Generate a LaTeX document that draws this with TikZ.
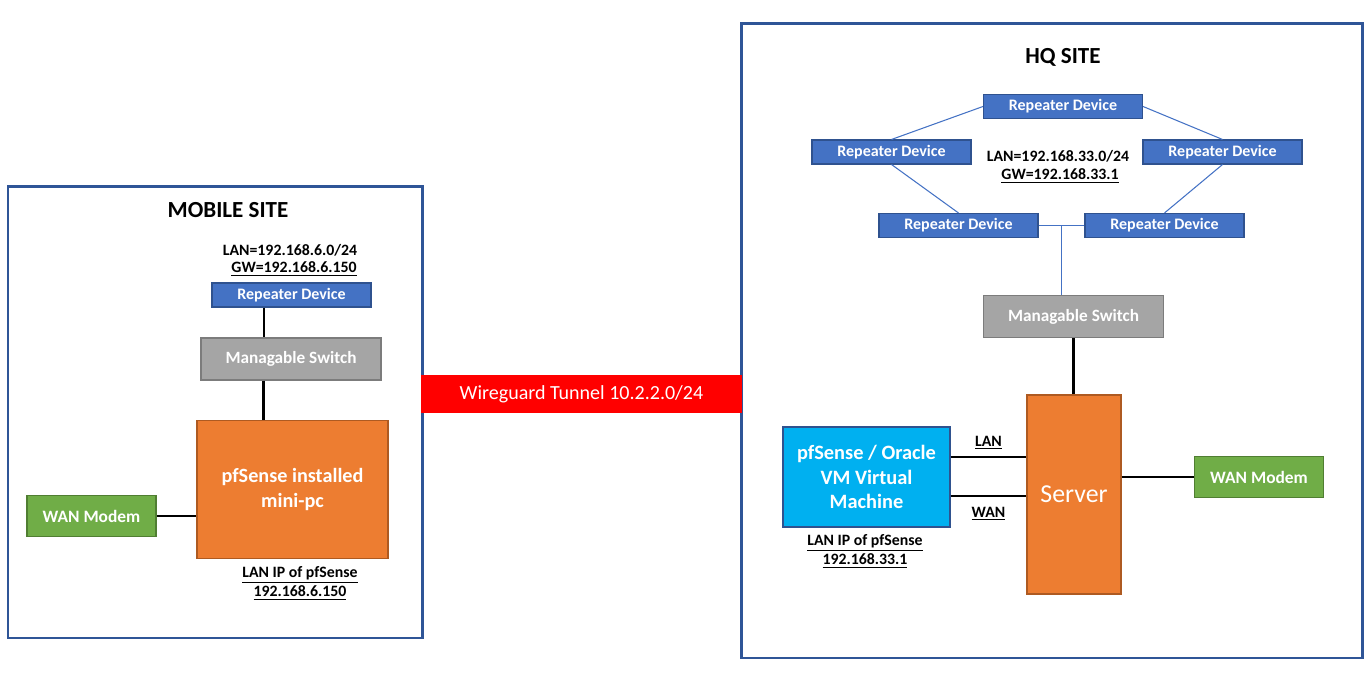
\documentclass[tikz,border=0pt]{standalone}
\usepackage{fontspec}
\setmainfont{Carlito}
\usetikzlibrary{positioning, calc}

\definecolor{siteblue}{RGB}{47,85,151}
\definecolor{repblue}{RGB}{68,114,196}
\definecolor{repedge}{RGB}{47,82,143}
\definecolor{swgray}{RGB}{165,165,165}
\definecolor{swedge}{RGB}{124,124,124}
\definecolor{pforange}{RGB}{237,125,49}
\definecolor{pfedge}{RGB}{174,90,33}
\definecolor{modemgreen}{RGB}{112,173,71}
\definecolor{modemedge}{RGB}{80,126,50}
\definecolor{vmcyan}{RGB}{0,176,240}
\definecolor{tunnelred}{RGB}{255,0,0}

\begin{document}
\begin{tikzpicture}[
    site/.style={draw=siteblue, line width=1.7pt, inner sep=0pt},
    title/.style={font=\bfseries\fontsize{13.1}{15}\selectfont},
    note/.style={font=\bfseries\fontsize{9}{11}\selectfont, align=center},
    dev/.style={draw, line width=0.6pt, inner sep=0pt, text=white, align=center,
        font=\bfseries\fontsize{10.5}{12.5}\selectfont},
    repeater/.style={dev, fill=repblue, draw=repedge, minimum width=3.18cm,
        minimum height=0.48cm, font=\bfseries\fontsize{9.1}{11}\selectfont},
    switch/.style={dev, fill=swgray, draw=swedge, minimum width=3.6cm,
        minimum height=0.84cm, font=\bfseries\fontsize{9.8}{11.5}\selectfont},
    router/.style={dev, fill=pforange, draw=pfedge},
    modem/.style={dev, fill=modemgreen, draw=modemedge, minimum width=2.58cm,
        minimum height=0.82cm, font=\bfseries\fontsize{9.9}{12}\selectfont},
    wire/.style={line width=1.7pt},
    mesh/.style={repblue, line width=0.6pt}
]
\useasboundingbox (0,0) rectangle (27.4,13.86);

% Site frames
\node[site, minimum width=8.28cm, minimum height=9.02cm] (mobile) at (4.30, 5.61) {};
\node[site, minimum width=12.42cm, minimum height=12.68cm] (hq) at (21.03, 7.04) {};

% Tunnel between the sites
\node[fill=tunnelred, text=white, minimum width=6.42cm, minimum height=0.76cm,
    inner sep=0pt, font=\fontsize{11.4}{13.5}\selectfont] (tunnel) at (11.63, 5.98)
    {Wireguard Tunnel 10.2.2.0/24};

% Mobile site
\node[title] (mtitle) at (4.56, 9.66) {MOBILE SITE};
\node[note] (mlan) at (5.80, 8.86) {LAN=192.168.6.0/24};
\node[note] (mgw) at (5.88, 8.48) {\underline{GW=192.168.6.150}};
\node[repeater] (rep) at (5.83, 7.96) {Repeater Device};
\node[switch] (msw) at (5.82, 6.68) {Managable Switch};
\node[router, minimum width=3.82cm, minimum height=2.76cm,
    font=\bfseries\fontsize{11.5}{14}\selectfont] (mpf) at (5.85, 4.07)
    {pfSense installed\\mini-pc};
\node[modem] (mmodem) at (1.83, 3.54) {WAN Modem};
\node[note] (mip) at (6.00, 2.19) {\underline{LAN IP of pfSense}\\\underline{192.168.6.150}};

\draw[wire] ([xshift=-0.55cm]rep.south) -- ([xshift=-0.55cm]rep.south |- msw.north);
\draw[wire] ([xshift=-0.55cm]msw.south) -- ([xshift=-0.55cm]msw.south |- mpf.north);
\draw[wire] (mmodem.east) -- (mmodem.east -| mpf.west);

% HQ site
\node[title] (htitle) at (21.26, 12.72) {HQ SITE};
\node[repeater] (rtop) at (21.26, 11.73) {Repeater Device};
\node[repeater] (rml) at (17.83, 10.82) {Repeater Device};
\node[repeater] (rmr) at (24.45, 10.82) {Repeater Device};
\node[repeater] (rbl) at (19.17, 9.35) {Repeater Device};
\node[repeater] (rbr) at (23.29, 9.35) {Repeater Device};
\node[note] (hlan) at (21.16, 10.74) {LAN=192.168.33.0/24};
\node[note] (hgw) at (21.20, 10.34) {\underline{GW=192.168.33.1}};
\node[switch] (hsw) at (21.47, 7.53) {Managable Switch};
\node[router, minimum width=1.88cm, minimum height=3.98cm,
    font=\fontsize{14.7}{17}\selectfont] (srv) at (21.48, 3.97) {Server};
\node[dev, fill=vmcyan, draw=repedge, minimum width=3.34cm, minimum height=2.0cm,
    font=\bfseries\fontsize{11.6}{14}\selectfont] (vm) at (17.33, 4.32)
    {pfSense / Oracle\\VM Virtual\\Machine};
\node[modem] (hmodem) at (25.18, 4.32) {WAN Modem};
\node[note] (hip) at (17.30, 2.83) {\underline{LAN IP of pfSense}\\\underline{192.168.33.1}};

% Repeater ring
\draw[mesh] (rtop.west) -- (rml.north);
\draw[mesh] (rtop.east) -- (rmr.north);
\draw[mesh] (rml.south) -- (rbl.north);
\draw[mesh] (rmr.south) -- (rbr.north);
\draw[mesh] (rbl.east) -- coordinate (hub) (rbr.west);
\draw[mesh] (hub) -- (hub |- hsw.north);

\draw[wire] (hsw.south) -- (hsw.south |- srv.north);
\draw[wire] ([yshift=0.40cm]vm.east) -- node[note, above] {\underline{LAN}}
    ([yshift=0.40cm]vm.east -| srv.west);
\draw[wire] ([yshift=-0.38cm]vm.east) -- node[note, below=2pt] {\underline{WAN}}
    ([yshift=-0.38cm]vm.east -| srv.west);
\draw[wire] (hmodem.west -| srv.east) -- (hmodem.west);

\end{tikzpicture}
\end{document}
